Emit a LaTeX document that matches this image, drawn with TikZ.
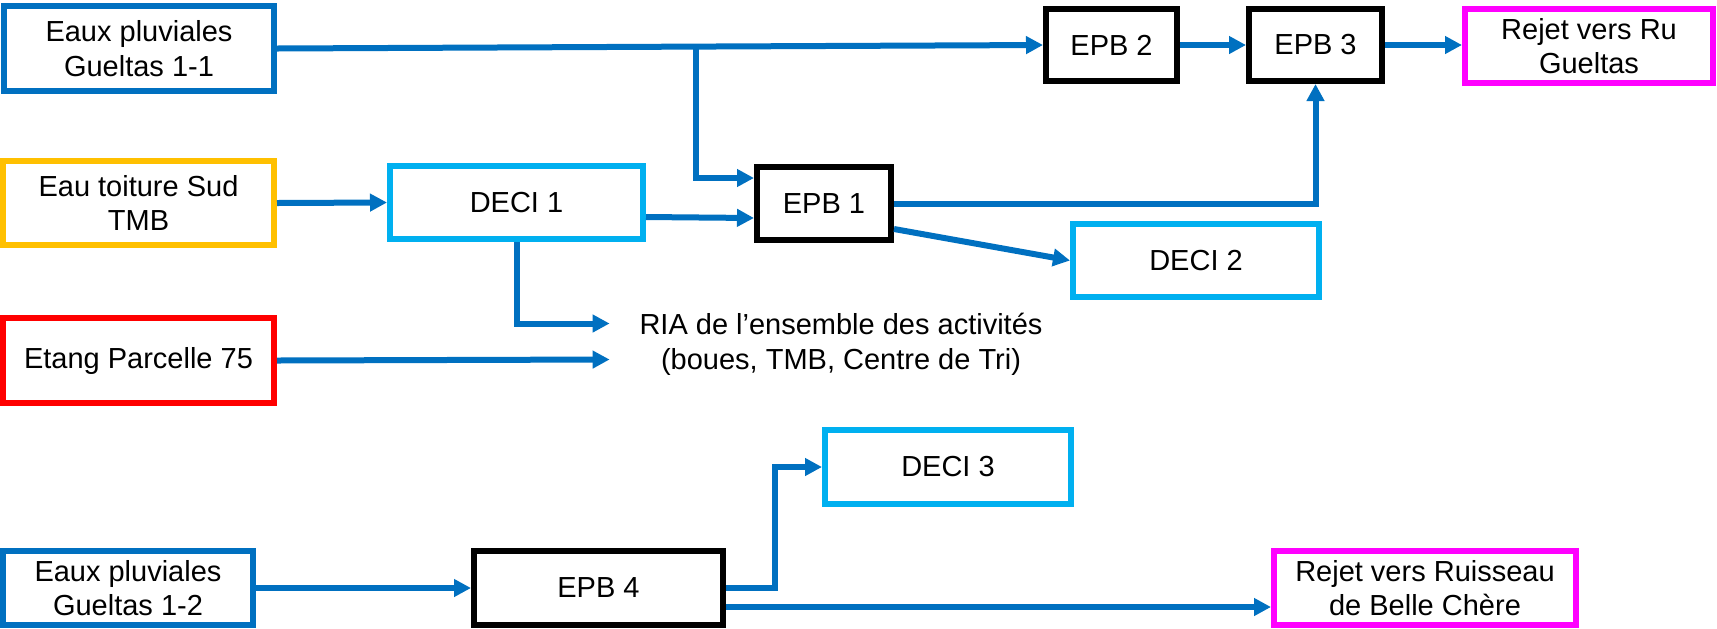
\documentclass[tikz,border=0pt]{standalone}
\usepackage{fontspec}
\setmainfont{Liberation Sans}
\usetikzlibrary{arrows.meta,calc}
\definecolor{cblue}{HTML}{0070C0}
\definecolor{corange}{HTML}{FFC000}
\definecolor{cred}{HTML}{FF0000}
\definecolor{clight}{HTML}{00B0F0}
\definecolor{cmag}{HTML}{FF00FF}
\begin{document}
\begin{tikzpicture}[x=0.5pt,y=-0.5pt,
  box/.style 2 args={draw, line width=3pt, fill=white, inner sep=0pt, align=center,
    minimum width={(#1-6)*0.5pt}, minimum height={(#2-6)*0.5pt},
    font=\fontsize{14.5}{17.25}\selectfont},
  bluebox/.style={draw=cblue},
  orangebox/.style={draw=corange},
  redbox/.style={draw=cred},
  lightbox/.style={draw=clight},
  magbox/.style={draw=cmag},
  blackbox/.style={draw=black},
  conn/.style={draw=cblue, line width=3pt, -{Triangle[length=8.5pt,width=8.5pt]}}]
\useasboundingbox (0,0) rectangle (1717,628);

% top row
\node[box={276}{91}, bluebox] (A) at (139,48.5) {Eaux pluviales\\Gueltas 1-1};
\node[box={277}{90}, orangebox] (B) at (138.5,203) {Eau toiture Sud\\TMB};
\node[box={277}{91}, redbox] (C) at (138.5,360.5) {Etang Parcelle 75};
\node[box={259}{79}, lightbox] (D1) at (516.5,202.5) {DECI 1};
\node[box={140}{79}, blackbox] (E1) at (824,203.5) {EPB 1};
\node[box={137}{78}, blackbox] (E2) at (1111.5,45) {EPB 2};
\node[box={139}{78}, blackbox] (E3) at (1315.5,45) {EPB 3};
\node[box={254}{80}, magbox] (R1) at (1589,46) {Rejet vers Ru\\Gueltas};
\node[box={252}{79}, lightbox] (D2) at (1196,260.5) {DECI 2};
\node[align=center, inner xsep=14.75pt, inner ysep=0pt,
  font=\fontsize{14.5}{17.5}\selectfont] (RIA) at (841,344.5)
  {RIA de l’ensemble des activités\\(boues, TMB, Centre de Tri)};

% bottom row
\node[box={252}{80}, lightbox] (D3) at (948,467) {DECI 3};
\node[box={256}{80}, bluebox] (A2) at (128,588) {Eaux pluviales\\Gueltas 1-2};
\node[box={255}{80}, blackbox] (E4) at (598.5,588) {EPB 4};
\node[box={308}{80}, magbox] (R2) at (1425,588) {Rejet vers Ruisseau\\de Belle Chère};

% connectors
\coordinate (J) at (696,48);
\draw[conn] (A.east) -- (E2.west);
\draw[conn] (J) |- ($(E1.west)+(0,-25.5)$);
\draw[conn] (B.east) -- (D1.west);
\draw[conn] ($(D1.east)+(0,14.5)$) -- ($(E1.west)+(0,14.5)$);
\draw[conn] (E1.east) -| (E3.south);
\draw[conn] ($(E1.east)+(0,25.5)$) -- (D2.west);
\draw[conn] (E2.east) -- (E3.west);
\draw[conn] (E3.east) -- (E3.east -| R1.west);
\draw[conn] (D1.south) |- ($(RIA.west)+(0,-21)$);
\draw[conn] (C.east) -- ($(RIA.west)+(0,15)$);
\draw[conn] (A2.east) -- (E4.west);
\draw[conn] (E4.east) -- ++(49,0) |- (D3.west);
\draw[conn] ($(E4.east)+(0,19)$) -- ($(R2.west)+(0,19)$);
\end{tikzpicture}
\end{document}
